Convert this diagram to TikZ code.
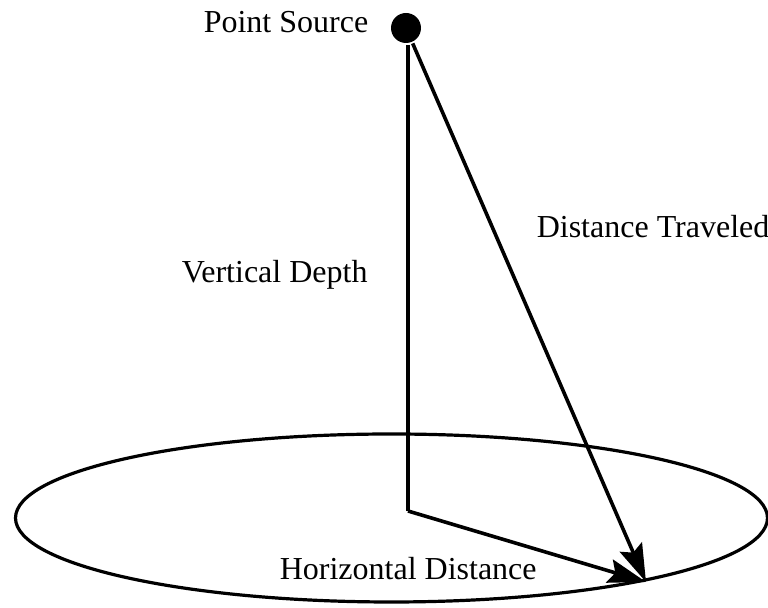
\documentclass[tikz,border=0pt]{standalone}
\usepackage{fontspec}
\setmainfont{Liberation Serif}
\usetikzlibrary{arrows.meta}
\begin{document}
\begin{tikzpicture}[x=0.5pt, y=-0.5pt, line width=1.8pt,
        >={Stealth[length=19pt, width=12pt, inset=3pt]},
        lbl/.style={inner sep=0pt, font=\fontsize{16}{19}\selectfont}]
        \useasboundingbox (0,0) rectangle (768,608);

        % Ground plane
        \draw[line width=1.6pt] (391.5,518) ellipse [x radius=376, y radius=84];

        % Source and points on the plane
        \node[circle, fill=black, inner sep=0pt, minimum size=15pt] (src) at (406,28) {};
        \coordinate (foot) at (408,511);
        \coordinate (hit) at (646,582);

        % Paths
        \draw (src.south -| foot) -- (foot);
        \draw[->] (foot) -- (hit);
        \draw[->] (src) -- (hit);

        % Labels
        \node[lbl, anchor=base west] (srclbl) at (202,33) {Point Source};
        \node[lbl, anchor=base west] (depthlbl) at (180,283) {Vertical Depth};
        \node[lbl, anchor=base west] (travlbl) at (535,238) {Distance Traveled};
        \node[lbl, anchor=base west] (horizlbl) at (278,580) {Horizontal Distance};
    \end{tikzpicture}
\end{document}
